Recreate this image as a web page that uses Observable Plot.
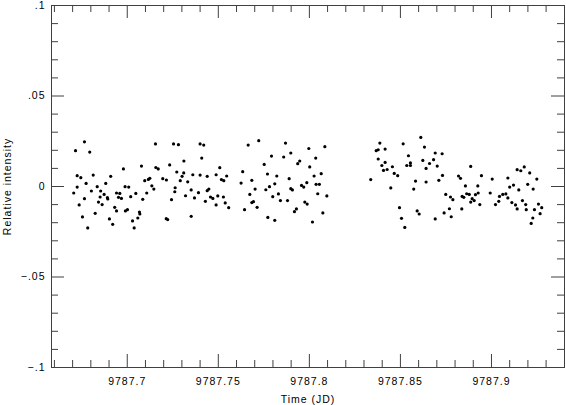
<!DOCTYPE html>
<html>
<head>
<meta charset="utf-8">
<script src="https://cdn.jsdelivr.net/npm/d3@7"></script>
<script src="https://cdn.jsdelivr.net/npm/@observablehq/plot@0.6"></script>
<style>
  html, body { margin: 0; padding: 0; background: #fff; }
  #chart svg text { letter-spacing: 1px; }
</style>
</head>
<body>
<div id="chart"></div>
<script>
// ---- data ----
const time = [
  9787.6765, 9787.6716, 9787.6794, 9787.7155, 9787.7254, 9787.7281, 9787.7311, 9787.7078, 9787.6979, 9787.7157,
  9787.7170, 9787.7233, 9787.7272, 9787.7310, 9787.7301, 9787.6725, 9787.6745, 9787.6813, 9787.6909, 9787.7124,
  9787.7116, 9787.7096, 9787.7195, 9787.7215, 9787.7291, 9787.6774, 9787.6882, 9787.6725, 9787.6835, 9787.6988,
  9787.7008, 9787.7135, 9787.7146, 9787.7263, 9787.6706, 9787.6803, 9787.6854, 9787.6873, 9787.6941, 9787.6959,
  9787.7047, 9787.7107, 9787.7261, 9787.7320, 9787.6765, 9787.6851, 9787.6891, 9787.6893, 9787.6952, 9787.6968,
  9787.7019, 9787.7085, 9787.7243, 9787.6736, 9787.6842, 9787.6862, 9787.6931, 9787.6941, 9787.6990, 9787.7001,
  9787.7067, 9787.7069, 9787.6824, 9787.6754, 9787.6902, 9787.7058, 9787.7029, 9787.7214, 9787.7222, 9787.6920,
  9787.6783, 9787.7038,
  9787.7400, 9787.7420, 9787.7664, 9787.7722, 9787.7869, 9787.7997, 9787.7409, 9787.7792, 9787.7859, 9787.7898,
  9787.7947, 9787.7936, 9787.7752, 9787.7508, 9787.8002, 9787.7634, 9787.7360, 9787.7400, 9787.7439, 9787.7488,
  9787.7546, 9787.7770, 9787.7821, 9787.7517, 9787.7530, 9787.7889, 9787.7332, 9787.7625, 9787.7684, 9787.7810,
  9787.7957, 9787.7969, 9787.7986, 9787.7351, 9787.7391, 9787.7439, 9787.7448, 9787.7702, 9787.7761, 9787.7781,
  9787.7898, 9787.7907, 9787.7369, 9787.7457, 9787.7470, 9787.7497, 9787.7528, 9787.7673, 9787.7799, 9787.7830,
  9787.7429, 9787.7538, 9787.7557, 9787.7488, 9787.7684, 9787.7693, 9787.7713, 9787.7841, 9787.7880, 9787.7975,
  9787.7988, 9787.7644, 9787.7929, 9787.7918, 9787.7351, 9787.7772, 9787.7810,
  9787.8085, 9787.8035, 9787.8026, 9787.8065, 9787.8037, 9787.8055, 9787.8046, 9787.8096, 9787.8074, 9787.8017,
  9787.8387, 9787.8367, 9787.8378, 9787.8416, 9787.8515, 9787.8612, 9787.8632, 9787.8378, 9787.8416, 9787.8398,
  9787.8456, 9787.8427, 9787.8407, 9787.8544, 9787.8555, 9787.8555, 9787.8535, 9787.8623, 9787.8660, 9787.8641,
  9787.8466, 9787.8485, 9787.8337, 9787.8583, 9787.8641, 9787.8447, 9787.8573, 9787.8495, 9787.8592, 9787.8603,
  9787.8506, 9787.8524,
  9787.8691, 9787.8729, 9787.8682, 9787.8702, 9787.8731, 9787.8711, 9787.8886, 9787.8819, 9787.8830, 9787.8945,
  9787.9004, 9787.8857, 9787.8925, 9787.8749, 9787.8775, 9787.8788, 9787.8839, 9787.8848, 9787.8864, 9787.8878,
  9787.8912, 9787.8927, 9787.8894, 9787.8905, 9787.8886, 9787.8936, 9787.8837, 9787.8769, 9787.8740, 9787.8779,
  9787.8691, 9787.8993, 9787.9044, 9787.9040, 9787.9022, 9787.9062, 9787.9079, 9787.9090, 9787.9112, 9787.9132,
  9787.9141, 9787.9170, 9787.9188, 9787.9191, 9787.9236, 9787.9090, 9787.9100, 9787.9121, 9787.9150, 9787.9141,
  9787.9161, 9787.9180, 9787.9210, 9787.9249, 9787.9199, 9787.9229, 9787.9258, 9787.9276, 9787.9267, 9787.9227,
  9787.9218
];
const intensity = [
  0.0247, 0.0198, 0.0190, 0.0235, 0.0235, 0.0231, 0.0141, 0.0113, 0.0097, 0.0105,
  0.0097, 0.0119, 0.0080, 0.0075, 0.0056, 0.0060, 0.0049, 0.0063, 0.0056, 0.0045,
  0.0039, 0.0032, 0.0043, 0.0036, 0.0032, 0.0017, 0.0017, -0.0003, -0.0001, -0.0001,
  -0.0003, 0.0004, -0.0014, -0.0007, -0.0036, -0.0025, -0.0025, -0.0044, -0.0036, -0.0038,
  -0.0038, -0.0036, -0.0029, -0.0051, -0.0067, -0.0058, -0.0062, -0.0069, -0.0060, -0.0066,
  -0.0056, -0.0071, -0.0073, -0.0102, -0.0086, -0.0100, -0.0115, -0.0135, -0.0135, -0.0128,
  -0.0141, -0.0152, -0.0148, -0.0168, -0.0179, -0.0174, -0.0190, -0.0178, -0.0183, -0.0209,
  -0.0229, -0.0229,
  0.0235, 0.0229, 0.0229, 0.0253, 0.0240, 0.0210, 0.0157, 0.0168, 0.0163, 0.0185,
  0.0141, 0.0126, 0.0122, 0.0104, 0.0108, 0.0082, 0.0065, 0.0063, 0.0056, 0.0065,
  0.0058, 0.0069, 0.0058, 0.0038, 0.0032, 0.0043, 0.0026, 0.0019, 0.0034, 0.0015,
  0.0006, -0.0003, 0.0021, -0.0019, -0.0034, -0.0023, -0.0014, -0.0014, -0.0018, -0.0001,
  -0.0012, -0.0019, -0.0063, -0.0058, -0.0066, -0.0052, -0.0058, -0.0044, -0.0056, -0.0041,
  -0.0082, -0.0091, -0.0117, -0.0102, -0.0089, -0.0084, -0.0115, -0.0078, -0.0078, -0.0086,
  -0.0097, -0.0128, -0.0124, -0.0139, -0.0165, -0.0171, -0.0187,
  0.0220, 0.0157, 0.0058, 0.0071, 0.0012, 0.0012, -0.0040, -0.0052, -0.0146, -0.0196,
  0.0240, 0.0198, 0.0203, 0.0207, 0.0236, 0.0271, 0.0218, 0.0152, 0.0133, 0.0116,
  0.0109, 0.0094, 0.0089, 0.0170, 0.0130, 0.0116, 0.0116, 0.0144, 0.0127, 0.0100,
  0.0072, 0.0060, 0.0038, 0.0030, 0.0025, -0.0008, -0.0014, -0.0117, -0.0135, -0.0152,
  -0.0176, -0.0226,
  0.0185, 0.0181, 0.0148, 0.0113, 0.0061, 0.0034, 0.0111, 0.0058, 0.0045, 0.0060,
  0.0041, 0.0003, 0.0003, -0.0044, -0.0058, -0.0073, -0.0055, -0.0060, -0.0040, -0.0044,
  -0.0045, -0.0036, -0.0067, -0.0078, -0.0086, -0.0100, -0.0124, -0.0123, -0.0146, -0.0167,
  -0.0179, -0.0036, -0.0055, -0.0082, -0.0100, -0.0044, -0.0041, -0.0063, -0.0089, -0.0102,
  -0.0124, -0.0078, -0.0100, -0.0128, -0.0128, 0.0047, -0.0003, 0.0008, -0.0019, 0.0093,
  0.0087, 0.0108, 0.0075, 0.0041, 0.0012, -0.0014, -0.0097, -0.0117, -0.0150, -0.0174,
  -0.0204
];

// axes
const xDomain = [9787.6584, 9787.9401];
const yDomain = [-0.1, 0.1];
const xMajorTicks = [9787.7, 9787.75, 9787.8, 9787.85, 9787.9];
const xMajorLabels = ["9787.7", "9787.75", "9787.8", "9787.85", "9787.9"];
const xMinorTicks = [9787.66, 9787.67, 9787.68, 9787.69, 9787.71, 9787.72, 9787.73, 9787.74,
  9787.76, 9787.77, 9787.78, 9787.79, 9787.81, 9787.82, 9787.83, 9787.84,
  9787.86, 9787.87, 9787.88, 9787.89, 9787.91, 9787.92, 9787.93];
const yMajorTicks = [-0.1, -0.05, 0, 0.05, 0.1];
const yMajorLabels = ["\u2212.1", "\u2212.05", "0", ".05", ".1"];
const yMinorTicks = [-0.09, -0.08, -0.07, -0.06, -0.04, -0.03, -0.02, -0.01,
  0.01, 0.02, 0.03, 0.04, 0.06, 0.07, 0.08, 0.09];
const xLabel = "Time (JD)";
const yLabel = "Relative intensity";

const points = time.map((t, i) => ({t, v: intensity[i]}));

const W = 566, H = 405, mL = 51, mR = 2, mT = 5, mB = 38;
const innerW = W - mL - mR, innerH = H - mT - mB;
const major = 13, minor = 7;
const axisColor = "#404040";

const chart = Plot.plot({
  width: W, height: H,
  marginLeft: mL, marginRight: mR, marginTop: mT, marginBottom: mB,
  style: {fontFamily: "'Liberation Sans', Arial, Helvetica, sans-serif", fontSize: "10.5px", background: "#fff", color: "#000"},
  x: {domain: xDomain, ticks: xMajorTicks, tickFormat: d => xMajorLabels[xMajorTicks.indexOf(d)],
      tickSize: 0, tickPadding: 10, label: xLabel, labelAnchor: "center", labelArrow: "none"},
  y: {domain: yDomain, ticks: yMajorTicks, tickFormat: d => yMajorLabels[yMajorTicks.indexOf(d)],
      tickSize: 0, tickPadding: 6, label: yLabel, labelAnchor: "center", labelArrow: "none"},
  marks: [
    Plot.frame({stroke: axisColor}),
    // bottom ticks
    Plot.tickX(xMinorTicks, {x: d => d, stroke: axisColor, insetTop: innerH - minor}),
    Plot.tickX(xMajorTicks, {x: d => d, stroke: axisColor, insetTop: innerH - major}),
    // top ticks
    Plot.tickX(xMinorTicks, {x: d => d, stroke: axisColor, insetBottom: innerH - minor}),
    Plot.tickX(xMajorTicks, {x: d => d, stroke: axisColor, insetBottom: innerH - major}),
    // left ticks
    Plot.tickY(yMinorTicks, {y: d => d, stroke: axisColor, insetRight: innerW - minor}),
    Plot.tickY(yMajorTicks, {y: d => d, stroke: axisColor, insetRight: innerW - major}),
    // right ticks
    Plot.tickY(yMinorTicks, {y: d => d, stroke: axisColor, insetLeft: innerW - minor}),
    Plot.tickY(yMajorTicks, {y: d => d, stroke: axisColor, insetLeft: innerW - major}),
    Plot.dot(points, {x: "t", y: "v", r: 1.6, fill: "#000", stroke: "none"})
  ]
});
document.getElementById("chart").appendChild(chart);
</script>
</body>
</html>
